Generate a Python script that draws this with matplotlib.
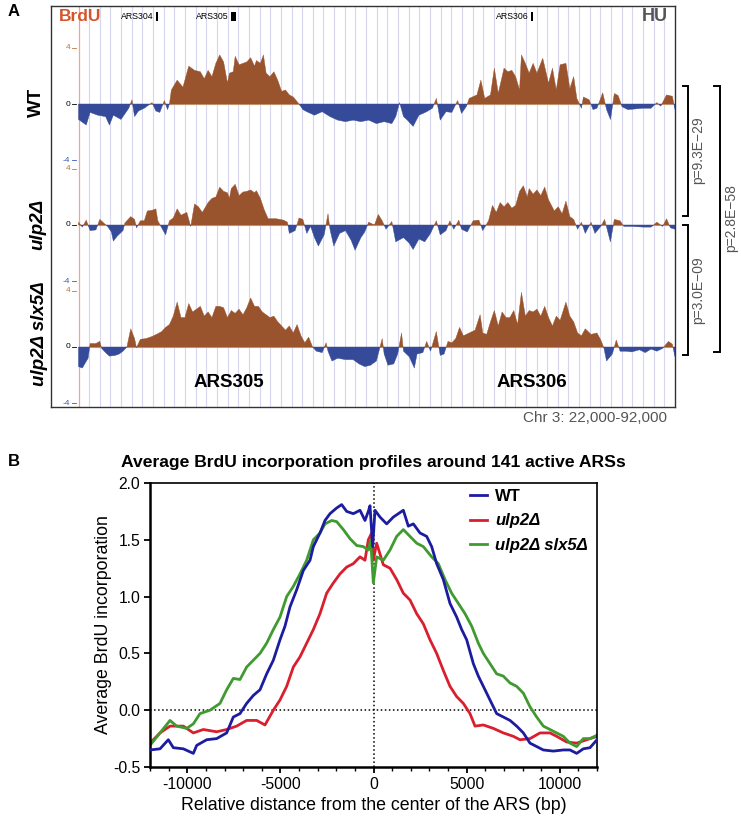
import numpy as np
import matplotlib
matplotlib.use("Agg")
import matplotlib.pyplot as plt
from matplotlib.ticker import FormatStrFormatter

plt.rcParams['font.family'] = ['Liberation Sans', 'DejaVu Sans']
plt.rcParams['axes.unicode_minus'] = False

W, H = 741, 816

# ---------------- panel A : BrdU tracks, chr III 22-92 kb ----------------
wt_kb = [22.00, 22.91, 23.36, 24.27, 25.18, 25.63, 26.09, 26.99, 27.45, 27.90, 28.27, 28.58, 29.04,
         29.72, 30.63, 31.08, 31.54, 32.08, 32.45, 32.67, 32.90, 33.58, 34.26, 34.94, 35.62, 36.30,
         36.76, 37.21, 37.66, 38.12, 38.57, 39.03, 39.48, 39.71, 40.16, 40.39, 40.84, 41.30, 41.75,
         42.20, 42.66, 42.88, 43.34, 43.70, 44.02, 44.47, 44.93, 45.38, 45.84, 46.29, 46.74, 47.20,
         47.65, 47.88, 48.33, 48.79, 49.69, 50.60, 51.51, 52.42, 53.33, 54.23, 55.14, 56.05, 56.96,
         57.87, 58.77, 59.23, 59.68, 60.14, 60.59, 61.27, 61.95, 62.86, 63.54, 64.00, 64.45, 65.13,
         65.81, 66.49, 66.95, 67.49, 67.63, 67.85, 68.76, 69.22, 69.67, 70.35, 70.80, 71.26, 71.94,
         72.39, 72.85, 73.30, 73.76, 73.98, 74.44, 74.89, 75.35, 75.80, 76.48, 77.16, 77.62, 78.07,
         78.52, 79.20, 79.66, 80.11, 80.48, 80.79, 81.02, 81.25, 81.93, 82.38, 82.84, 83.52, 83.97,
         84.43, 84.88, 85.33, 85.79, 86.47, 87.38, 88.28, 89.19, 89.87, 90.33, 91.01, 91.69, 92.00]
wt_val = [-1.1, -1.5, -0.6, -0.8, -0.9, -1.5, -0.8, -1.1, -0.7, -0.3, 0.3, -0.9, -0.5,
          -0.3, 0.1, -0.5, -0.6, 0.25, -0.4, 0.0, 1.0, 1.7, 1.2, 2.7, 2.4, 2.3,
          1.8, 2.4, 1.95, 2.9, 3.5, 3.0, 1.5, 2.2, 2.3, 3.4, 2.8, 2.9, 3.0,
          3.3, 2.7, 3.1, 2.9, 3.5, 2.2, 1.95, 2.3, 1.7, 0.9, 1.0, 0.65, 0.5,
          0.17, 0.0, -0.4, -0.55, -0.8, -0.55, -0.9, -1.15, -1.26, -1.15, -1.26, -1.15, -1.4,
          -1.26, -1.4, -0.9, 0.1, -0.9, -1.15, -1.6, -0.8, -0.55, -0.3, 0.4, -1.15, -0.55,
          -0.6, 0.25, -0.67, -0.2, 0.0, 0.4, 0.65, 1.7, 0.4, 0.65, 2.55, 0.76, 2.55,
          2.3, 2.4, 1.95, 1.0, 3.5, 2.9, 2.2, 2.9, 2.2, 3.26, 1.48, 2.55, 1.0,
          2.8, 2.9, 1.1, 1.95, 0.4, 0.0, -0.3, 0.5, 0.3, -0.4, -0.3, 0.8, -0.4,
          -1.1, 0.75, 0.6, -0.2, -0.4, -0.35, -0.3, -0.3, 0.1, -0.15, 0.65, 0.55, -0.4]

ulp2_kb = [22.00, 22.45, 22.91, 23.36, 24.04, 24.50, 24.95, 25.41, 25.86, 26.09, 26.54, 27.22, 27.45,
           28.13, 28.58, 28.81, 29.26, 29.72, 30.08, 30.63, 31.08, 31.31, 31.76, 32.22, 32.67, 33.12,
           33.58, 34.03, 34.71, 35.17, 35.62, 36.07, 36.53, 37.21, 37.66, 38.12, 38.57, 39.03, 39.48,
           39.71, 39.93, 40.39, 40.84, 41.30, 41.75, 42.20, 42.66, 42.88, 43.34, 43.79, 44.25, 45.15,
           46.06, 46.52, 46.74, 47.42, 47.88, 48.33, 48.79, 49.24, 49.69, 50.15, 50.83, 51.28, 51.51,
           51.96, 52.64, 53.33, 54.00, 54.46, 55.14, 55.59, 56.05, 56.73, 57.18, 57.64, 58.09, 58.77,
           59.23, 60.14, 60.82, 61.27, 61.95, 62.63, 63.31, 63.99, 64.45, 65.13, 65.58, 66.04, 66.63,
           66.95, 67.63, 68.31, 68.99, 69.44, 70.12, 70.58, 71.03, 71.48, 71.94, 72.39, 72.85, 73.30,
           73.76, 74.21, 74.66, 74.89, 75.35, 75.80, 76.25, 76.71, 77.16, 77.84, 78.30, 78.75, 79.20,
           79.66, 80.11, 80.57, 81.02, 81.47, 82.15, 82.61, 83.29, 83.74, 84.42, 84.88, 85.56, 86.01,
           86.92, 88.28, 89.19, 89.87, 90.55, 91.01, 91.46, 92.00]
ulp2_val = [0.2, -0.15, 0.35, -0.4, -0.35, 0.4, 0.15, -0.1, -0.5, -1.15, -0.8, -0.4, 0.15,
            0.6, 0.4, -0.2, 0.3, 0.3, 1.0, 1.05, 1.15, 0.3, -0.2, -0.7, 0.3, 0.5,
            1.15, 0.7, 0.9, -0.1, 1.5, 1.3, 0.9, 1.6, 1.9, 2.0, 2.7, 2.4, 2.3,
            1.9, 2.6, 2.9, 2.1, 2.35, 2.4, 2.5, 2.3, 2.45, 1.9, 1.1, 0.45, 0.45,
            0.35, 0.2, -0.6, -0.4, 0.5, 0.4, -0.6, -0.1, -0.9, -1.5, -0.7, 0.8, -0.3,
            -1.5, -0.6, -0.4, -1.1, -1.8, -0.9, -0.5, 0.2, 0.0, 0.75, 0.3, -0.3, 0.25,
            -1.2, -0.9, -1.3, -1.75, -1.0, -1.2, -0.6, 0.3, -0.7, -0.4, 0.3, -0.3, 0.35,
            -0.3, -0.5, 0.3, 0.35, -0.4, 0.3, 1.4, 0.9, 1.6, 1.3, 1.6, 1.2, 1.4,
            2.4, 2.8, 2.0, 2.6, 2.2, 2.5, 2.1, 2.7, 1.8, 1.0, 1.3, 0.8, 1.7,
            0.6, 0.4, -0.3, 0.2, -0.6, 0.2, -0.6, -0.1, 0.4, -1.2, 0.4, 0.3, -0.1,
            -0.1, -0.15, -0.15, 0.2, -0.1, 0.45, -0.2, -0.3]

slx5_kb = [22.00, 22.45, 23.13, 23.36, 24.04, 24.50, 24.72, 25.18, 25.63, 26.31, 26.77, 27.22, 27.68,
           28.13, 28.58, 28.81, 29.26, 29.94, 30.63, 31.31, 31.76, 32.22, 32.67, 33.12, 33.58, 34.03,
           34.49, 34.94, 35.39, 35.85, 36.30, 36.76, 37.21, 37.66, 38.12, 38.57, 39.03, 39.48, 39.93,
           40.39, 40.84, 41.30, 41.75, 42.20, 42.66, 43.11, 43.57, 44.02, 44.47, 44.93, 45.38, 45.84,
           46.29, 46.74, 47.20, 47.65, 48.11, 48.56, 49.01, 49.47, 49.92, 50.60, 51.06, 51.28, 51.74,
           52.42, 53.33, 54.23, 54.91, 55.59, 56.27, 56.96, 57.64, 57.87, 58.32, 59.00, 59.46, 59.91,
           60.14, 60.82, 61.41, 61.73, 62.41, 62.86, 63.31, 63.99, 64.45, 64.90, 65.36, 65.81, 66.27,
           66.72, 67.17, 67.85, 68.54, 69.13, 69.44, 69.90, 70.35, 70.80, 71.26, 71.71, 72.17, 72.62,
           73.08, 73.53, 73.98, 74.44, 74.89, 75.35, 75.80, 76.25, 76.71, 77.16, 77.62, 78.07, 78.52,
           79.20, 79.66, 80.11, 80.57, 81.02, 81.47, 82.15, 82.84, 83.29, 83.65, 83.97, 84.65, 85.11,
           85.56, 86.24, 86.92, 87.83, 88.51, 89.19, 89.87, 90.55, 91.23, 91.69, 92.00]
slx5_val = [-1.4, -1.5, -0.8, 0.25, 0.25, 0.4, -0.1, -0.4, -0.65, -0.6, -0.5, -0.3, 0.0,
            1.3, 0.6, -0.05, 0.55, 0.6, 0.75, 0.95, 1.1, 1.4, 1.6, 2.2, 3.2, 2.1,
            2.1, 3.1, 2.5, 2.7, 2.9, 2.2, 2.5, 2.1, 2.9, 2.9, 2.8, 2.1, 2.6,
            2.4, 2.7, 2.3, 2.8, 3.5, 2.9, 2.9, 2.5, 2.3, 2.1, 2.2, 1.8, 1.5,
            1.2, 1.5, 1.0, 1.6, 0.8, 0.3, 0.7, 0.0, -0.3, -0.4, 0.3, -0.3, -1.0,
            -0.8, -0.9, -0.9, -1.2, -1.4, -1.3, -1.0, 0.6, -0.5, -1.3, -1.2, -0.5, 1.0,
            -0.3, -0.7, -1.5, -0.5, -0.4, 0.4, -0.3, 1.1, -0.6, -0.5, 0.4, 0.3, 0.6,
            1.4, 0.8, 1.0, 1.2, 2.3, 1.0, 0.9, 1.8, 2.6, 1.5, 2.5, 2.1, 2.1,
            2.6, 1.6, 3.9, 2.2, 2.6, 2.5, 2.7, 2.2, 2.9, 2.1, 1.5, 2.2, 1.9,
            3.2, 2.2, 1.8, 1.0, 0.8, 1.3, 0.9, 1.0, 0.5, -0.05, -1.0, -0.5, 0.5,
            -0.3, -0.3, -0.35, -0.2, -0.4, -0.15, -0.3, -0.1, 0.4, 0.2, -0.7]

track_names = ['WT', 'ulp2Δ', 'ulp2Δ slx5Δ']
ars_names = ['ARS304', 'ARS305', 'ARS306']
ars_start = [31.05, 39.90, 75.11]
ars_end = [31.28, 40.49, 75.29]
big_ars = ['ARS305', 'ARS306']
big_ars_kb = [39.7, 75.2]
pvals = ['p=9.3E\u221229', 'p=3.0E\u221209', 'p=2.8E\u221258']

# ---------------- panel B : average profiles around 141 ARSs ----------------
wt_bp = [-12000, -11463, -11016, -10747, -10210, -9673, -9494, -8958, -8421, -7884, -7526, -7168,
         -6810, -6452, -6094, -5736, -5378, -5020, -4752, -4483, -4125, -3767, -3409, -3230,
         -2873, -2604, -2336, -1978, -1709, -1441, -1083, -725, -457, -278, -188, -45,
         81, 349, 707, 1065, 1333, 1602, 1870, 2139, 2497, 2855, 3123, 3391,
         3749, 4107, 4465, 4734, 5002, 5360, 5629, 5897, 6255, 6613, 6971, 7329,
         7687, 8045, 8403, 8761, 9118, 9655, 10192, 10550, 10908, 11266, 11624, 12000]
wt_avg = [-0.35, -0.34, -0.26, -0.33, -0.34, -0.38, -0.31, -0.26, -0.25, -0.20, -0.06, -0.03,
          0.06, 0.13, 0.18, 0.32, 0.44, 0.62, 0.74, 0.91, 1.06, 1.23, 1.32, 1.44,
          1.56, 1.67, 1.73, 1.78, 1.81, 1.75, 1.73, 1.76, 1.67, 1.75, 1.80, 1.44,
          1.76, 1.70, 1.64, 1.70, 1.73, 1.76, 1.62, 1.64, 1.56, 1.53, 1.44, 1.29,
          1.15, 0.94, 0.82, 0.71, 0.62, 0.41, 0.30, 0.21, 0.09, -0.03, -0.06, -0.09,
          -0.14, -0.20, -0.29, -0.32, -0.35, -0.36, -0.35, -0.35, -0.38, -0.34, -0.33, -0.26]

ulp2_bp = [-12000, -11463, -10926, -10210, -9673, -9136, -8421, -7884, -7347, -6810, -6273, -5826,
           -5378, -5020, -4662, -4304, -3946, -3588, -3230, -2873, -2515, -2157, -1799, -1441,
           -1083, -725, -457, -278, -98, -9, 170, 528, 886, 1244, 1602, 1960,
           2318, 2676, 3033, 3391, 3749, 4107, 4465, 4823, 5181, 5450, 5897, 6434,
           6971, 7508, 7866, 8403, 8939, 9476, 9834, 10371, 10908, 11445, 12000]
ulp2_avg = [-0.29, -0.20, -0.14, -0.14, -0.20, -0.17, -0.19, -0.17, -0.14, -0.09, -0.09, -0.13,
            0.0, 0.09, 0.21, 0.38, 0.47, 0.59, 0.71, 0.85, 1.03, 1.12, 1.20, 1.26,
            1.29, 1.35, 1.32, 1.50, 1.56, 1.32, 1.47, 1.28, 1.25, 1.15, 1.03, 0.97,
            0.85, 0.76, 0.62, 0.50, 0.35, 0.21, 0.12, 0.06, -0.03, -0.14, -0.13, -0.16,
            -0.20, -0.23, -0.26, -0.25, -0.20, -0.20, -0.23, -0.28, -0.29, -0.26, -0.23]

slx5_bp = [-12000, -11463, -10926, -10568, -10031, -9673, -9315, -8779, -8242, -7884, -7526, -7168,
           -6810, -6452, -6094, -5736, -5378, -5020, -4662, -4304, -3946, -3588, -3230, -2873,
           -2604, -2246, -1978, -1620, -1262, -904, -546, -278, -152, -9, 170, 528,
           886, 1244, 1602, 1960, 2318, 2676, 3123, 3481, 3839, 4197, 4555, 4913,
           5271, 5629, 5897, 6255, 6613, 6971, 7329, 7687, 8045, 8403, 8761, 9118,
           9476, 9834, 10192, 10550, 10908, 11266, 11624, 12000]
slx5_avg = [-0.31, -0.20, -0.09, -0.14, -0.16, -0.12, -0.03, 0.0, 0.06, 0.18, 0.28, 0.27,
            0.38, 0.44, 0.50, 0.59, 0.71, 0.82, 1.00, 1.09, 1.20, 1.32, 1.50, 1.56,
            1.64, 1.67, 1.66, 1.59, 1.51, 1.45, 1.44, 1.41, 1.50, 1.12, 1.35, 1.32,
            1.41, 1.53, 1.59, 1.53, 1.47, 1.44, 1.35, 1.29, 1.15, 1.03, 0.94, 0.85,
            0.74, 0.59, 0.50, 0.41, 0.32, 0.30, 0.24, 0.21, 0.15, 0.03, -0.06, -0.14,
            -0.17, -0.20, -0.23, -0.29, -0.32, -0.25, -0.25, -0.22]

brown = '#99532d'
navy = '#354b99'
tick_brown = '#b8783c'
tick_blue = '#3c5ab4'

fig = plt.figure(figsize=(W / 100, H / 100), dpi=100)

# overlay in pixel coordinates for labels / brackets
ov = fig.add_axes([0, 0, 1, 1])
ov.set_xlim(0, W)
ov.set_ylim(H, 0)
ov.axis('off')

# frame of panel A
box_l, box_r, box_t, box_b = 51, 675, 6, 407
kb_left = 22 - (78.5 - box_l) / ((box_r - 78.5) / 70.0)
axA = fig.add_axes([box_l / W, 1 - box_b / H, (box_r - box_l) / W, (box_b - box_t) / H])
axA.set_xlim(kb_left, 92)
axA.set_ylim(0, 1)
axA.set_xticks([])
axA.set_yticks([])
for s in axA.spines.values():
    s.set_color('#333333')
    s.set_linewidth(1.0)
for g in np.arange(23.25, 92.0, 1.25):
    axA.axvline(g, color='#d6d6ee', lw=0.8, zorder=0)
axA.axvline(22.0, color='#f2a0a0', lw=0.9, zorder=0)

xf = axA.get_xaxis_transform()
for name, a0, a1 in zip(ars_names, ars_start, ars_end):
    axA.add_patch(plt.Rectangle((a0, 0.962), a1 - a0, 0.023, transform=xf, color='black', lw=0))
    axA.text(a0 - 0.25, 0.9735, name, transform=xf, ha='right', va='center', fontsize=6.3)
axA.text(0.012, 0.9735, 'BrdU', transform=axA.transAxes, ha='left', va='center',
         fontsize=12.5, fontweight='bold', color='#d4552a')
axA.text(0.988, 0.9735, 'HU', transform=axA.transAxes, ha='right', va='center',
         fontsize=13, fontweight='bold', color='#555555')
for name, kb in zip(big_ars, big_ars_kb):
    axA.text(kb, 0.062, name, transform=xf, ha='center', va='center', fontsize=13.5, fontweight='bold')

tracks = [(wt_kb, wt_val, 104), (ulp2_kb, ulp2_val, 225), (slx5_kb, slx5_val, 347)]
for kb, val, zero_px in tracks:
    ax = fig.add_axes([box_l / W, 1 - (zero_px + 60) / H, (box_r - box_l) / W, 120 / H])
    ax.set_xlim(kb_left, 92)
    ax.set_ylim(-4.28, 4.28)
    ax.axis('off')
    ax.patch.set_alpha(0)
    x = np.array(kb)
    y = np.array(val)
    ax.axhline(0, xmin=(22 - kb_left) / (92 - kb_left), color='#c9a27e', lw=0.8, zorder=1)
    ax.fill_between(x, y, 0, where=y >= 0, interpolate=True, color=brown, lw=0.3, zorder=2)
    ax.fill_between(x, y, 0, where=y <= 0, interpolate=True, color=navy, lw=0.3, zorder=2)
    yt = ax.get_yaxis_transform()
    for v, lab, col in [(4, '4', tick_brown), (0, '0', 'black'), (-4, '-4', tick_blue)]:
        ax.text(0.031, v, lab, transform=yt, ha='right', va='center', fontsize=6, color=col)
        ax.plot([0.034, 0.040], [v, v], transform=yt, color=col, lw=0.6, clip_on=False)

# row labels
ov.text(36, 102, track_names[0], rotation=90, ha='center', va='center', fontsize=13.5, fontweight='bold')
ov.text(38, 224, track_names[1], rotation=90, ha='center', va='center', fontsize=13.5,
        fontweight='bold', style='italic')
ov.text(40, 334, track_names[2], rotation=90, ha='center', va='center', fontsize=13.5,
        fontweight='bold', style='italic')
ov.text(8, 11, 'A', ha='left', va='center', fontsize=12, fontweight='bold')
ov.text(667, 418, 'Chr 3: 22,000-92,000', ha='right', va='center', fontsize=11, color='#555555')

# significance brackets
for x0, x1, y0, y1 in [(683, 688, 86, 216), (683, 688, 225, 355), (714, 720, 86, 352)]:
    ov.plot([x0, x1, x1, x0], [y0, y0, y1, y1], color='black', lw=1.4, solid_joinstyle='miter')
for (px, py), lab in zip([(698, 150), (698, 290), (731, 218)], pvals):
    ov.text(px, py, lab, rotation=90, ha='center', va='center', fontsize=10, color='#555555')

# ---------------- panel B ----------------
ov.text(8, 461, 'B', ha='left', va='center', fontsize=12, fontweight='bold')
ov.text(373, 463, 'Average BrdU incorporation profiles around 141 active ARSs',
        ha='center', va='center', fontsize=12.6, fontweight='bold')

axB = fig.add_axes([150 / W, 1 - 767 / H, 447 / W, 284 / H])
axB.axhline(0, color='black', ls=':', lw=1.1, zorder=1)
axB.axvline(0, color='black', ls=':', lw=1.1, zorder=1)
axB.plot(wt_bp, wt_avg, color='#1c1ca0', lw=2, label='WT', zorder=3)
axB.plot(ulp2_bp, ulp2_avg, color='#d91e2e', lw=2, label='ulp2Δ', zorder=2)
axB.plot(slx5_bp, slx5_avg, color='#3f9a2f', lw=2, label='ulp2Δ slx5Δ', zorder=2)
axB.set_xlim(-12000, 12000)
axB.set_ylim(-0.5, 2.0)
axB.set_xticks([-10000, -5000, 0, 5000, 10000])
axB.set_xticks(np.arange(-12000, 12001, 1000), minor=True)
axB.set_yticks([-0.5, 0.0, 0.5, 1.0, 1.5, 2.0])
axB.yaxis.set_major_formatter(FormatStrFormatter('%.1f'))
axB.tick_params(axis='both', which='major', labelsize=11.3, length=4.5, width=1.3, pad=2.5,
                direction='out')
axB.tick_params(axis='x', which='minor', length=3, width=1.0, direction='out')
for side in ['left', 'bottom']:
    axB.spines[side].set_linewidth(1.8)
for side in ['top', 'right']:
    axB.spines[side].set_linewidth(1.2)
axB.set_xlabel('Relative distance from the center of the ARS (bp)', fontsize=12.8, labelpad=4)
axB.set_ylabel('Average BrdU incorporation', fontsize=12.8, labelpad=1)

leg = axB.legend(loc='upper left', bbox_to_anchor=(0.716, 0.978), frameon=False, fontsize=12,
                 handlelength=1.0, handletextpad=0.5, labelspacing=0.55, borderpad=0, borderaxespad=0)
for i, t in enumerate(leg.get_texts()):
    t.set_fontweight('bold')
    if i > 0:
        t.set_style('italic')

fig.savefig('out.png', dpi=100)
